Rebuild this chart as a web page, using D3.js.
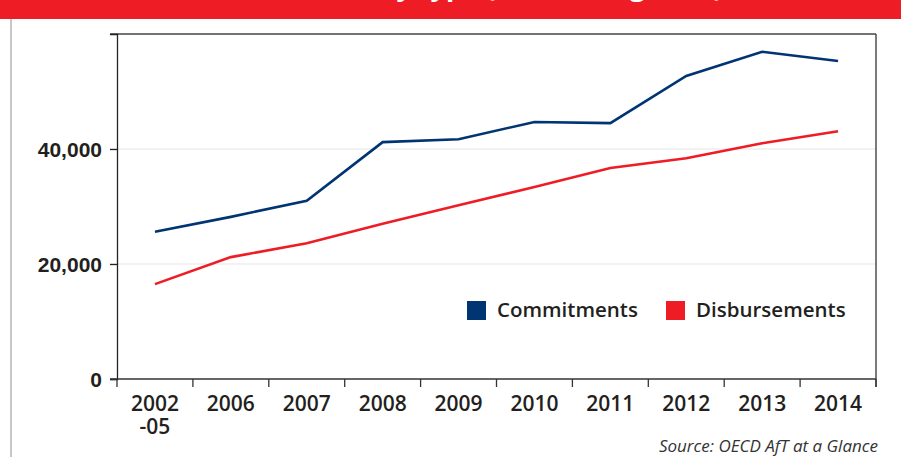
<!DOCTYPE html>
<html>
<head>
<meta charset="utf-8">
<script src="https://cdn.jsdelivr.net/npm/d3@7"></script>
<style>
  body { margin: 0; background: #fff; }
  svg { display: block; font-family: "Open Sans", sans-serif; }
</style>
</head>
<body>
<svg width="901" height="457"></svg>
<script>
    let margin = { top: 34, right: 25, bottom: 78, left: 117 };
    let width = 901;
    let height = 457;

    let years = ["2002-05", "2006", "2007", "2008", "2009", "2010", "2011", "2012", "2013", "2014"];
    let commitments = [25600, 28200, 31000, 41200, 41700, 44700, 44500, 52700, 56900, 55300];
    let disbursements = [16500, 21200, 23600, 27000, 30200, 33400, 36700, 38400, 41000, 43100];
    let yTicks = [0, 20000, 40000];
    let legendItems = ["Commitments", "Disbursements"];

    let navy = "#003473";
    let red = "#ee1c25";

    let svg = d3.select("svg");

    // red heading band, title mostly cut off at the top
    svg.append("rect")
        .attr("x", 0).attr("y", 0)
        .attr("width", width).attr("height", 19)
        .attr("fill", red);

    svg.append("clipPath").attr("id", "band")
        .append("rect").attr("x", 0).attr("y", 0).attr("width", width).attr("height", 19);

    let title = svg.append("text")
        .attr("clip-path", "url(#band)")
        .attr("x", 0)
        .attr("y", -4.5)
        .style("font-size", "27px")
        .style("font-weight", 700)
        .style("fill", "white")
        .text("Aid for Trade disbursements and commitments by type (in USD, avg 2014)");

    // shift the title so its opening bracket sits where the reference has it
    let bracket = title.text().indexOf("(");
    let bx = title.node().getStartPositionOfChar(bracket).x;
    title.attr("x", 486 - bx);

    // grey page edge on the left
    svg.append("line")
        .attr("x1", 11).attr("x2", 11)
        .attr("y1", 19).attr("y2", height)
        .style("stroke", "#c8c8c8")
        .style("stroke-width", 2);

    let x = d3.scaleBand()
        .domain(years)
        .range([margin.left, width - margin.right]);

    let y = d3.scaleLinear()
        .domain([0, 60000])
        .range([height - margin.bottom, margin.top]);

    // gridlines
    svg.append("g")
        .selectAll("line")
        .data(yTicks.filter(d => d > 0))
        .join("line")
        .attr("x1", margin.left - 7)
        .attr("x2", width - margin.right)
        .attr("y1", d => y(d))
        .attr("y2", d => y(d))
        .style("stroke", "#e6e6e6")
        .style("stroke-width", 1.2);

    // top frame line
    svg.append("line")
        .attr("x1", margin.left - 7)
        .attr("x2", width - margin.right)
        .attr("y1", y(60000))
        .attr("y2", y(60000))
        .style("stroke", "#444")
        .style("stroke-width", 1.6);

    // right frame line
    svg.append("line")
        .attr("x1", width - margin.right)
        .attr("x2", width - margin.right)
        .attr("y1", y(60000))
        .attr("y2", y(0) + 8)
        .style("stroke", "#333")
        .style("stroke-width", 1.3);

    let yAxis = svg.append("g")
        .attr("transform", `translate(${margin.left}, 0)`)
        .call(d3.axisLeft(y)
            .tickValues(yTicks)
            .tickSize(7)
            .tickPadding(8)
            .tickFormat(d3.format(",")));

    yAxis.select(".domain").attr("stroke", "#222").attr("stroke-width", 1.3);
    yAxis.selectAll(".tick line").attr("stroke", "#222").attr("stroke-width", 1.3);
    yAxis.selectAll(".tick text")
        .style("font-size", "21px")
        .style("font-weight", 600)
        .style("fill", "#231f20")
        .attr("dy", "0.36em");

    // x axis baseline and band-edge ticks
    svg.append("line")
        .attr("x1", margin.left - 7)
        .attr("x2", width - margin.right)
        .attr("y1", y(0))
        .attr("y2", y(0))
        .style("stroke", "#333")
        .style("stroke-width", 1.3);

    let edges = years.map(d => x(d)).concat([x.range()[1]]);
    svg.append("g")
        .selectAll("line")
        .data(edges)
        .join("line")
        .attr("x1", d => d)
        .attr("x2", d => d)
        .attr("y1", y(0))
        .attr("y2", y(0) + 8)
        .style("stroke", "#333")
        .style("stroke-width", 1.3);

    // category labels, "2002-05" wraps onto a second line
    let labelLines = [];
    years.forEach(function (d) {
        let parts = d.split("-");
        labelLines.push({ year: d, text: parts[0], row: 0 });
        if (parts.length > 1) {
            labelLines.push({ year: d, text: "-" + parts[1], row: 1 });
        }
    });

    svg.append("g")
        .selectAll("text")
        .data(labelLines)
        .join("text")
        .attr("x", d => x(d.year) + x.bandwidth() / 2)
        .attr("y", d => y(0) + 32 + d.row * 23)
        .attr("text-anchor", "middle")
        .style("font-size", "21px")
        .style("font-weight", 600)
        .style("fill", "#231f20")
        .text(d => d.text);

    let line = d3.line()
        .x((d, i) => x(years[i]) + x.bandwidth() / 2)
        .y(d => y(d));

    svg.append("path")
        .attr("d", line(disbursements))
        .style("fill", "none")
        .style("stroke", red)
        .style("stroke-width", 2.6);

    svg.append("path")
        .attr("d", line(commitments))
        .style("fill", "none")
        .style("stroke", navy)
        .style("stroke-width", 2.6);

    // legend
    let legendX = [467, 666];
    let legendColors = [navy, red];
    let legend = svg.append("g")
        .selectAll("g")
        .data(legendItems)
        .join("g")
        .attr("transform", (d, i) => `translate(${legendX[i]}, 301)`);

    legend.append("rect")
        .attr("width", 19).attr("height", 19)
        .attr("fill", (d, i) => legendColors[i]);

    legend.append("text")
        .attr("x", 30)
        .attr("y", 16)
        .style("font-size", "20.5px")
        .style("font-weight", 600)
        .style("fill", "#231f20")
        .text(d => d);

    svg.append("text")
        .attr("x", 878)
        .attr("y", 452)
        .attr("text-anchor", "end")
        .style("font-size", "17px")
        .style("font-style", "italic")
        .style("fill", "#333")
        .text("Source: OECD AfT at a Glance");
</script>
</body>
</html>
